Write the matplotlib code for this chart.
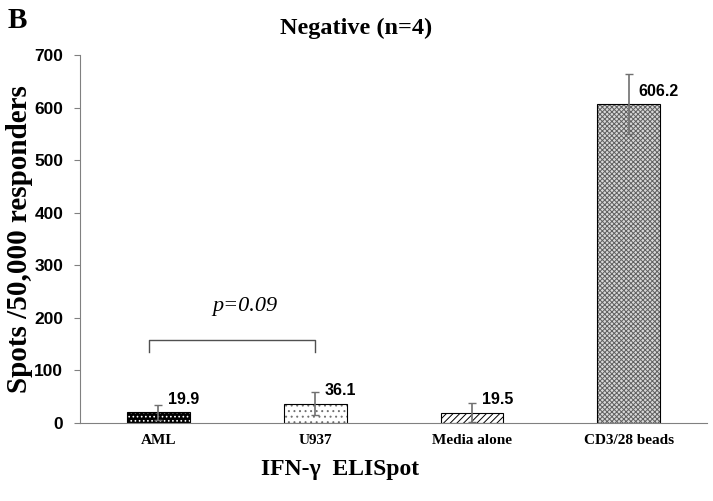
import matplotlib.pyplot as plt
import numpy as np

categories = ['AML', 'U937', 'Media alone', 'CD3/28 beads']
values = [19.9, 36.1, 19.5, 606.2]
errors = [14, 22, 18.5, 57]
hatches = ['....', '...', '/////', 'xxxxxxx']
faces = ['black', 'white', 'white', '#d8d8d8']
hatch_cols = ['white', '#707070', 'black', '#606060']

plt.rcParams['hatch.linewidth'] = 0.7

fig = plt.figure(figsize=(7.13, 5.01), dpi=100)
ax = fig.add_axes([0.112, 0.156, 0.88, 0.734])

x = np.arange(len(categories))
for i in range(len(categories)):
    # hatch colour follows edgecolor, so draw the pattern then a black outline
    ax.bar(x[i], values[i], width=0.4, color=faces[i], hatch=hatches[i],
           edgecolor=hatch_cols[i], linewidth=0)
    ax.bar(x[i], values[i], width=0.4, fill=False, edgecolor='black', linewidth=0.8)

ax.errorbar(x, values, yerr=errors, fmt='none', ecolor='#707070', elinewidth=1.2,
            capsize=3, capthick=1)

for i, v in enumerate(values):
    ax.annotate(f'{v:.1f}', (x[i], v), xytext=(7, 4), textcoords='offset points',
                ha='left', va='bottom', fontsize=11.5, fontweight='bold',
                family='Liberation Sans')

# significance bracket AML vs U937
ax.plot([-0.06, -0.06, 1.0, 1.0], [135, 158, 158, 135], color='#505050', lw=1)
ax.text(0.55, 203, 'p=0.09', ha='center', va='bottom', fontsize=16,
        style='italic', family='Liberation Serif')

ax.set_xlim(-0.5, 3.5)
ax.set_ylim(0, 700)
ax.set_yticks(range(0, 701, 100))
ax.set_xticks(x)
ax.set_xticklabels(categories, family='Liberation Serif', fontweight='bold', fontsize=11)
for lab in ax.get_yticklabels():
    lab.set_family('Liberation Sans')
    lab.set_fontweight('bold')
    lab.set_fontsize(12.5)
ax.tick_params(axis='x', length=0, pad=8)
ax.tick_params(axis='y', length=4, color='#808080', pad=8)

for s in ['top', 'right']:
    ax.spines[s].set_visible(False)
ax.spines['left'].set_color('#808080')
ax.spines['bottom'].set_color('#808080')

ax.set_ylabel('Spots /50,000 responders', family='Liberation Serif',
              fontweight='bold', fontsize=21)
ax.yaxis.set_label_coords(-0.074, 0.5)
fig.text(340 / 713, 1 - 470 / 501, 'IFN-γ  ELISpot', family='Liberation Serif',
         fontweight='bold', fontsize=17, ha='center', va='center')
fig.text(0.5, 1 - 28 / 501, 'Negative (n=4)', family='Liberation Serif',
         fontweight='bold', fontsize=17.5, ha='center', va='center')
fig.text(0.011, 0.945, 'B', family='Liberation Serif', fontweight='bold', fontsize=21)

fig.savefig('out.png', dpi=100)
